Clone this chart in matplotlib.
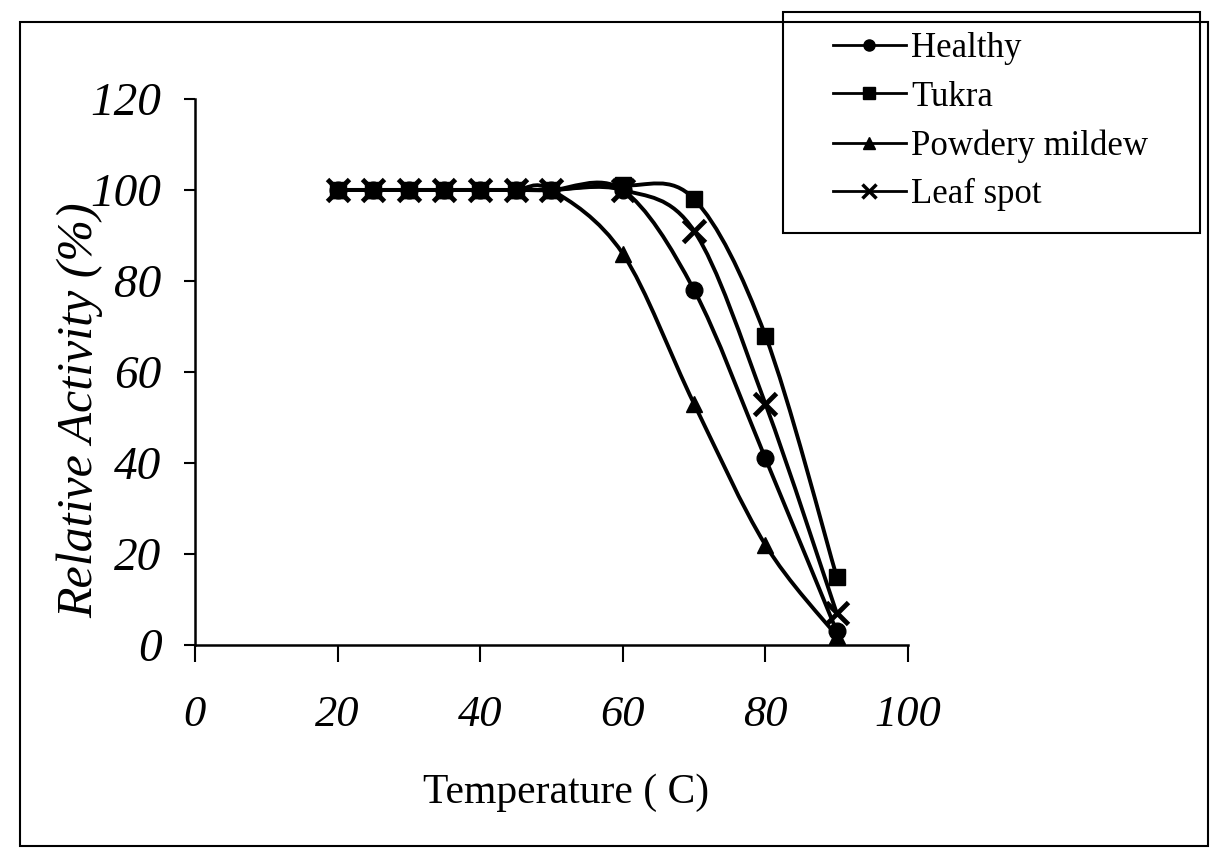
import matplotlib
matplotlib.use("Agg")
import matplotlib.pyplot as plt
from matplotlib.path import Path
from matplotlib.patches import PathPatch, Rectangle
from matplotlib.lines import Line2D

plt.rcParams['font.family'] = ['Liberation Serif', 'DejaVu Serif']

# temperatures (C)
temps = [20, 25, 30, 35, 40, 45, 50, 60, 70, 80, 90]

# relative activity (%)
healthy = [100, 100, 100, 100, 100, 100, 100, 100, 78, 41, 3]
tukra = [100, 100, 100, 100, 100, 100, 100, 101, 98, 68, 15]
powdery = [100, 100, 100, 100, 100, 100, 100, 86, 53, 22, 2]
leafspot = [100, 100, 100, 100, 100, 100, 100, 100, 91, 53, 7]

series_names = ['Healthy', 'Tukra', 'Powdery mildew', 'Leaf spot']
series_vals = [healthy, tukra, powdery, leafspot]
series_markers = ['o', 's', '^', 'x']

x_ticks = [0, 20, 40, 60, 80, 100]
y_ticks = [0, 20, 40, 60, 80, 100, 120]


def smooth_path(xs, ys):
    # excel style smoothed line: catmull-rom segments as cubic beziers
    pts = list(zip(xs, ys))
    verts = [pts[0]]
    codes = [Path.MOVETO]
    n = len(pts)
    for i in range(n - 1):
        p0 = pts[i - 1] if i > 0 else pts[i]
        p1 = pts[i]
        p2 = pts[i + 1]
        p3 = pts[i + 2] if i + 2 < n else pts[i + 1]
        c1 = (p1[0] + (p2[0] - p0[0]) / 6, p1[1] + (p2[1] - p0[1]) / 6)
        c2 = (p2[0] - (p3[0] - p1[0]) / 6, p2[1] - (p3[1] - p1[1]) / 6)
        verts += [c1, c2, p2]
        codes += [Path.CURVE4] * 3
    return Path(verts, codes)


fig = plt.figure(figsize=(12.18, 8.64), dpi=100)
ax = fig.add_axes([0.160, 0.2535, 0.5855, 0.632])

lw = 2.8
for vals, mk in zip(series_vals, series_markers):
    ax.add_patch(PathPatch(smooth_path(temps, vals), facecolor='none',
                           edgecolor='black', lw=lw, transform=ax.transData))
    if mk == 'x':
        ax.plot(temps, vals, ls='none', marker='x', ms=16, mew=3.5, color='black')
    else:
        ax.plot(temps, vals, ls='none', marker=mk, ms=12, color='black')

ax.set_xlim(0, 100)
ax.set_ylim(0, 120)
ax.set_xticks(x_ticks)
ax.set_yticks(y_ticks)
ax.set_xticklabels([str(t) for t in x_ticks], fontsize=32, style='italic')
ax.set_yticklabels([str(t) for t in y_ticks], fontsize=34, style='italic')
ax.tick_params(axis='x', direction='out', length=12, width=1.5, pad=24)
ax.tick_params(axis='y', direction='out', length=8, width=1.5, pad=16)

for s in ['top', 'right']:
    ax.spines[s].set_visible(False)
for s in ['left', 'bottom']:
    ax.spines[s].set_linewidth(1.8)

ax.set_xlabel('Temperature ( C)', fontsize=30)
ax.xaxis.set_label_coords(0.52, -0.235)
ax.set_ylabel('Relative Activity (%)', fontsize=36, style='italic')
ax.yaxis.set_label_coords(-0.128, 0.43)

# legend
handles = [Line2D([], [], color='black', lw=2, marker=mk,
                  ms=(10 if mk == 'x' else 8), mew=(2.5 if mk == 'x' else 1))
           for mk in series_markers]
fig.legend(handles, series_names, loc='upper left',
           bbox_to_anchor=(833 / 1218, 1 - 32 / 864), frameon=False,
           fontsize=25, borderpad=0, borderaxespad=0, handlelength=2.1,
           handletextpad=0.15, labelspacing=0.45)
fig.add_artist(Rectangle((783 / 1218, 1 - 233 / 864), 417 / 1218, 221 / 864,
                         transform=fig.transFigure, fill=False, lw=1.5,
                         edgecolor='black'))

# outer chart border
fig.add_artist(Rectangle((20 / 1218, 1 - 846 / 864), 1188 / 1218, 824 / 864,
                         transform=fig.transFigure, fill=False, lw=1.5,
                         edgecolor='black'))

fig.savefig('out.png', dpi=100, facecolor='white')
